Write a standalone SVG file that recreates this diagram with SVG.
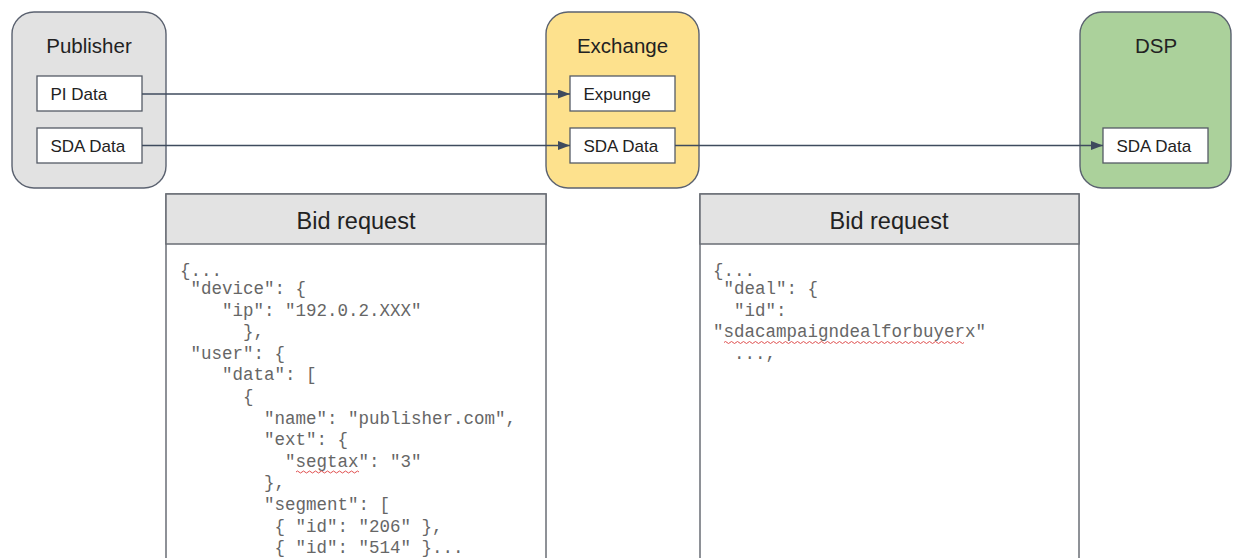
<svg xmlns="http://www.w3.org/2000/svg" width="1233" height="558" viewBox="0 0 1233 558">
<style>
.grp{stroke:#5b6270;stroke-width:1.4}
.inner{fill:#ffffff;stroke:#555b66;stroke-width:1.3}
.title{font-family:"Liberation Sans",Arial,sans-serif;font-size:20.5px;fill:#222;text-anchor:middle}
.lbl{font-family:"Liberation Sans",Arial,sans-serif;font-size:17px;fill:#222}
.panel{fill:#ffffff;stroke:#6a6e75;stroke-width:1.5}
.phead{fill:#e3e3e3;stroke:#6a6e75;stroke-width:1.5}
.ptitle{font-family:"Liberation Sans",Arial,sans-serif;font-size:23.5px;fill:#222;text-anchor:middle}
.code{font-family:"Liberation Mono","Courier New",monospace;font-size:17.5px;fill:#666666;white-space:pre}
.conn{stroke:#3f4b5e;stroke-width:1.3;fill:none}
.squig{stroke:#e05050;stroke-width:1;fill:none}
</style>
<defs>
<marker id="arr" markerUnits="userSpaceOnUse" markerWidth="12" markerHeight="10" refX="12" refY="4.5" orient="auto">
<path d="M0,0 L12,4.5 L0,9 z" fill="#3f4b5e"/>
</marker>
</defs>

<g id="publisher">
<rect class="grp" x="12" y="12" width="154" height="176" rx="22" fill="#e2e2e2"/>
<text class="title" x="89" y="53">Publisher</text>
<rect class="inner" x="37" y="76" width="105" height="35"/>
<text class="lbl" x="50.5" y="99.5">PI Data</text>
<rect class="inner" x="37" y="128" width="105" height="35"/>
<text class="lbl" x="50.5" y="151.5">SDA Data</text>
</g>

<g id="exchange">
<rect class="grp" x="546" y="12" width="153" height="176" rx="22" fill="#fde18d"/>
<text class="title" x="622.5" y="53">Exchange</text>
<rect class="inner" x="570" y="76" width="105" height="35"/>
<text class="lbl" x="583.5" y="99.5">Expunge</text>
<rect class="inner" x="570" y="128" width="105" height="35"/>
<text class="lbl" x="583.5" y="151.5">SDA Data</text>
</g>

<g id="dsp">
<rect class="grp" x="1080" y="12" width="151" height="176" rx="22" fill="#abd19b"/>
<text class="title" x="1156" y="53">DSP</text>
<rect class="inner" x="1103" y="128" width="105" height="35"/>
<text class="lbl" x="1116.5" y="151.5">SDA Data</text>
</g>

<g id="connectors">
<line class="conn" x1="142" y1="94" x2="570" y2="94" marker-end="url(#arr)"/>
<line class="conn" x1="142" y1="145.5" x2="570" y2="145.5" marker-end="url(#arr)"/>
<line class="conn" x1="675" y1="145.5" x2="1103" y2="145.5" marker-end="url(#arr)"/>
</g>

<g id="bidrequest-left">
<rect class="panel" x="166" y="194" width="380" height="380"/>
<rect class="phead" x="166" y="194" width="380" height="50"/>
<text class="ptitle" x="356" y="229">Bid request</text>
<text class="code" x="180" y="276">{...</text>
<text class="code" x="180" y="294"> "device": {</text>
<text class="code" x="180" y="315.6">    "ip": "192.0.2.XXX"</text>
<text class="code" x="180" y="337.2">      },</text>
<text class="code" x="180" y="358.8"> "user": {</text>
<text class="code" x="180" y="380.4">    "data": [</text>
<text class="code" x="180" y="402">      {</text>
<text class="code" x="180" y="423.6">        "name": "publisher.com",</text>
<text class="code" x="180" y="445.2">        "ext": {</text>
<text class="code" x="180" y="466.8">          "segtax": "3"</text>
<text class="code" x="180" y="488.4">        },</text>
<text class="code" x="180" y="510">        "segment": [</text>
<text class="code" x="180" y="531.6">         { "id": "206" },</text>
<text class="code" x="180" y="553.2">         { "id": "514" }...</text>
<path class="squig" d="M296,472 q1.5,-2 3,0 t3,0 t3,0 t3,0 t3,0 t3,0 t3,0 t3,0 t3,0 t3,0 t3,0 t3,0 t3,0 t3,0 t3,0 t3,0 t3,0 t3,0 t3,0 t3,0 t3,0"/>
</g>

<g id="bidrequest-right">
<rect class="panel" x="700" y="194" width="379" height="380"/>
<rect class="phead" x="700" y="194" width="379" height="50"/>
<text class="ptitle" x="889" y="229">Bid request</text>
<text class="code" x="713" y="276">{...</text>
<text class="code" x="713" y="294"> "deal": {</text>
<text class="code" x="713" y="315.6">  "id":</text>
<text class="code" x="713" y="337.2">"sdacampaigndealforbuyerx"</text>
<text class="code" x="713" y="358.8">  ...,</text>
<path class="squig" d="M724,342.5 q1.5,-2 3,0 t3,0 t3,0 t3,0 t3,0 t3,0 t3,0 t3,0 t3,0 t3,0 t3,0 t3,0 t3,0 t3,0 t3,0 t3,0 t3,0 t3,0 t3,0 t3,0 t3,0 t3,0 t3,0 t3,0 t3,0 t3,0 t3,0 t3,0 t3,0 t3,0 t3,0 t3,0 t3,0 t3,0 t3,0 t3,0 t3,0 t3,0 t3,0 t3,0 t3,0 t3,0 t3,0 t3,0 t3,0 t3,0 t3,0 t3,0 t3,0 t3,0 t3,0 t3,0 t3,0 t3,0 t3,0 t3,0 t3,0 t3,0 t3,0 t3,0 t3,0 t3,0 t3,0 t3,0 t3,0 t3,0 t3,0 t3,0 t3,0 t3,0 t3,0 t3,0 t3,0 t3,0 t3,0 t3,0 t3,0 t3,0 t3,0 t3,0"/>
</g>
</svg>
